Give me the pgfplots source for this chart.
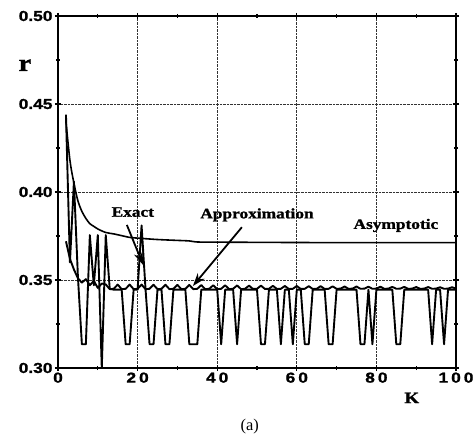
\documentclass[border=0pt]{standalone}
\usepackage{pgfplots}
\pgfplotsset{compat=1.18}
\usepackage{pgfplotstable}
\usepackage{fontspec}
\setmainfont{Liberation Serif}
\newfontfamily\tickfont[FakeStretch=1.2, BoldFeatures={FakeBold=1.2}]{Liberation Sans}
\newfontfamily\annfont[FakeStretch=1.2, BoldFeatures={FakeBold=1.2}]{Liberation Serif}
\usetikzlibrary{arrows.meta}

\pgfplotstableread{
K r
2 0.444
3 0.360
4 0.406
5 0.352
6 0.3135
7 0.3135
8 0.3755
9 0.347
10 0.3755
11 0.300
12 0.3755
13 0.3450
14 0.3445
15 0.3445
16 0.3445
17 0.3135
18 0.3135
19 0.3445
20 0.3445
21 0.381
22 0.3445
23 0.3135
24 0.3135
25 0.3445
26 0.3445
27 0.3135
28 0.3135
29 0.3445
30 0.3445
31 0.3445
32 0.3445
33 0.3135
34 0.3135
35 0.3135
36 0.3445
37 0.3445
38 0.3445
39 0.3445
40 0.3445
41 0.3135
42 0.3445
43 0.3445
44 0.3445
45 0.3135
46 0.3445
47 0.3445
48 0.3445
49 0.3445
50 0.3445
51 0.3135
52 0.3135
53 0.3445
54 0.3445
55 0.3445
56 0.3135
57 0.3445
58 0.3445
59 0.3135
60 0.3445
61 0.3445
62 0.3135
63 0.3135
64 0.3445
65 0.3445
66 0.3445
67 0.3445
68 0.3135
69 0.3135
70 0.3445
71 0.3445
72 0.3445
73 0.3445
74 0.3445
75 0.3445
76 0.3135
77 0.3135
78 0.3445
79 0.3135
80 0.3445
81 0.3445
82 0.3445
83 0.3445
84 0.3445
85 0.3135
86 0.3135
87 0.3445
88 0.3445
89 0.3445
90 0.3445
91 0.3445
92 0.3445
93 0.3445
94 0.3135
95 0.3445
96 0.3445
97 0.3135
98 0.3445
99 0.3445
100 0.3445
}\exacttable

\pgfplotstableread{
K r
2 0.3720
3 0.3620
4 0.3560
5 0.3510
6 0.3485
7 0.3505
8 0.3470
9 0.3495
10 0.3455
11 0.3480
12 0.3475
13 0.3448
14 0.3450
15 0.3474
16 0.3448
17 0.3450
18 0.3474
19 0.3448
20 0.3450
21 0.3474
22 0.3448
23 0.3450
24 0.3473
25 0.3448
26 0.3450
27 0.3473
28 0.3448
29 0.3450
30 0.3472
31 0.3448
32 0.3450
33 0.3472
34 0.3448
35 0.3450
36 0.3471
37 0.3448
38 0.3450
39 0.3470
40 0.3448
41 0.3450
42 0.3470
43 0.3448
44 0.3450
45 0.3469
46 0.3448
47 0.3450
48 0.3468
49 0.3449
50 0.3450
51 0.3468
52 0.3449
53 0.3450
54 0.3467
55 0.3449
56 0.3450
57 0.3466
58 0.3449
59 0.3450
60 0.3466
61 0.3449
62 0.3450
63 0.3465
64 0.3449
65 0.3450
66 0.3465
67 0.3449
68 0.3450
69 0.3464
70 0.3450
71 0.3451
72 0.3463
73 0.3450
74 0.3451
75 0.3463
76 0.3450
77 0.3451
78 0.3462
79 0.3450
80 0.3451
81 0.3462
82 0.3450
83 0.3451
84 0.3461
85 0.3450
86 0.3451
87 0.3461
88 0.3450
89 0.3451
90 0.3460
91 0.3450
92 0.3451
93 0.3460
94 0.3450
95 0.3451
96 0.3459
97 0.3450
98 0.3451
99 0.3459
100 0.3451
}\approxtable

\pgfplotstableread{
K r
2 0.440
3 0.418
4 0.405
5 0.395
6 0.389
7 0.385
8 0.382
9 0.3805
10 0.379
12 0.377
14 0.3762
16 0.3752
18 0.3742
20 0.3738
25 0.3730
30 0.3725
33 0.3722
35 0.3716
40 0.3715
50 0.3714
60 0.3713
80 0.3712
100 0.3712
}\asymtable

\begin{document}
\begin{tikzpicture}
\begin{axis}[
  name=ax,
  at={(0,0)}, anchor=south west,
  scale only axis,
  width=398bp, height=352bp,
  xmin=0, xmax=100, ymin=0.30, ymax=0.50,
  clip=false,
  axis line style={line width=1.7pt},
  xtick={0,20,40,60,80,100},
  xticklabels={0,2\hspace{3pt}0,4\hspace{3pt}0,6\hspace{3pt}0,8\hspace{3pt}0,1\hspace{3pt}0\hspace{3pt}0},
  minor xtick={10,30,50,70,90},
  ytick={0.30,0.35,0.40,0.45,0.50},
  yticklabels={0.30,0.35,0.40,0.45,0.50},
  minor ytick={0.325,0.375,0.425,0.475},
  tick align=center,
  major tick length=6bp, minor tick length=4bp,
  tick style={line width=1.2pt, black},
  xmajorgrids, ymajorgrids,
  major grid style={densely dotted, black!80, line width=0.8pt},
  ticklabel style={font=\tickfont\bfseries\fontsize{14.5}{14.5}\selectfont},
  xticklabel style={yshift=2bp},
  yticklabel style={xshift=1bp},
  every axis plot/.append style={black, line width=1.9pt, line join=round},
]
\addplot[no markers] table[x=K,y=r] {\exacttable};
\addplot[no markers] table[x=K,y=r] {\approxtable};
\addplot[no markers, smooth, line width=1.6pt] table[x=K,y=r] {\asymtable};

\node[font=\annfont\bfseries\fontsize{24}{24}\selectfont] at (axis cs:-8.3,0.472) {r};
\node[font=\annfont\bfseries\fontsize{16}{16}\selectfont] at (axis cs:88.9,0.283) {K};
\node[font=\fontsize{16.5}{16.5}\selectfont] at (axis cs:48.2,0.2665) {(a)};
\node[font=\annfont\bfseries\fontsize{14.5}{14.5}\selectfont] at (axis cs:18.8,0.3886) {Exact};
\node[font=\annfont\bfseries\fontsize{14.5}{14.5}\selectfont] at (axis cs:50,0.387) {Approximation};
\node[font=\annfont\bfseries\fontsize{14.5}{14.5}\selectfont] at (axis cs:84.9,0.381) {Asymptotic};
\draw[line width=1.8pt, -{Stealth[length=13bp,width=9bp]}] (axis cs:17.3,0.3813) -- (axis cs:21.4,0.3585);
\draw[line width=1.8pt, -{Stealth[length=13bp,width=9bp]}] (axis cs:46.2,0.380) -- (axis cs:33.9,0.3466);
\end{axis}
\pgfresetboundingbox
\path[use as bounding box] (ax.south west) ++(-58bp,-68bp) rectangle ++(474bp,436bp);
\end{tikzpicture}
\end{document}
